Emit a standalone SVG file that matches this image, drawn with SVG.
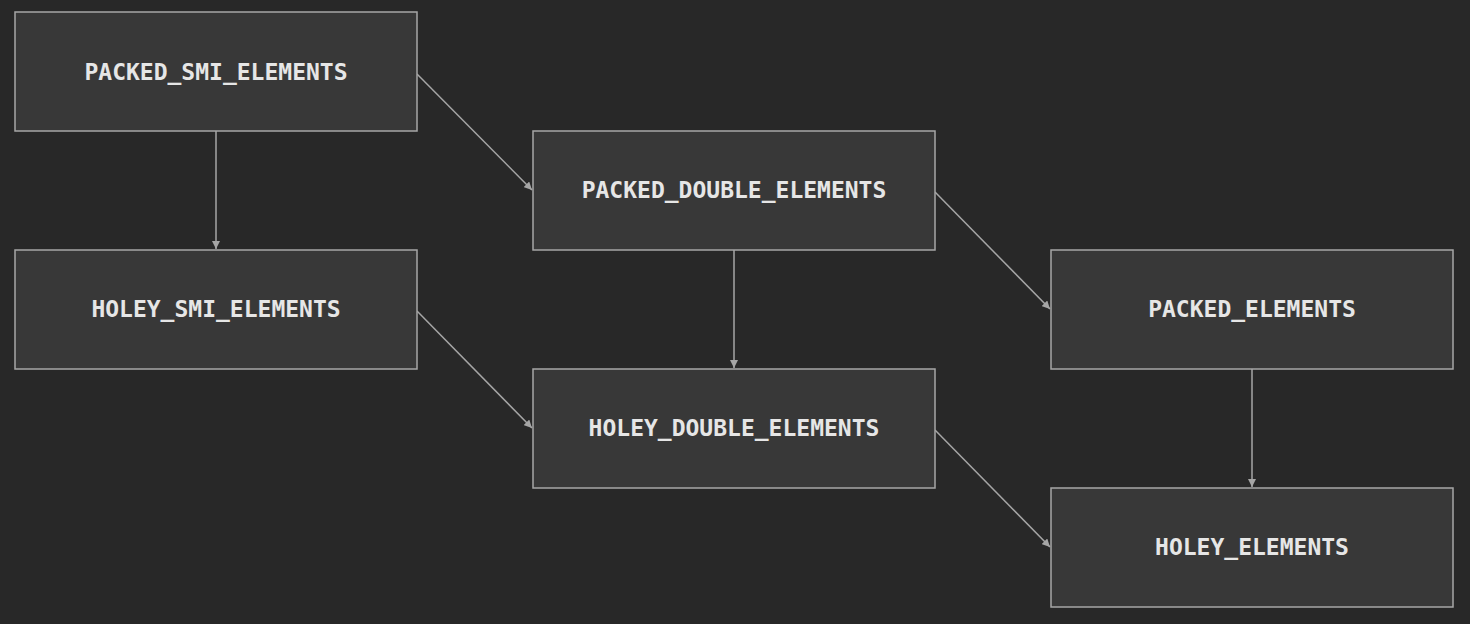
<svg xmlns="http://www.w3.org/2000/svg" width="1470" height="624" viewBox="0 0 1470 624">
<style>
.box{fill:#383838;stroke:#a6a6a6;stroke-width:1.5}
.lbl{font-family:"DejaVu Sans Mono","Liberation Mono",monospace;font-weight:bold;font-size:23px;fill:#e6e6e6;text-anchor:middle;dominant-baseline:central}
.edge{stroke:#a6a6a6;stroke-width:1.5;fill:none;marker-end:url(#arr)}
</style>
<defs>
<marker id="arr" viewBox="0 0 10 10" refX="10" refY="5" markerWidth="8" markerHeight="8" markerUnits="userSpaceOnUse" orient="auto"><path d="M0,0 L10,5 L0,10 z" fill="#a6a6a6"/></marker>
</defs>
<rect width="1470" height="624" fill="#282828"/>
<g id="connectors">
<line class="edge" x1="216" y1="131" x2="216" y2="249"/>
<line class="edge" x1="417" y1="74" x2="532" y2="190"/>
<line class="edge" x1="734" y1="250" x2="734" y2="368"/>
<line class="edge" x1="935" y1="192" x2="1050" y2="309"/>
<line class="edge" x1="417" y1="311" x2="532" y2="428"/>
<line class="edge" x1="1252" y1="369" x2="1252" y2="487"/>
<line class="edge" x1="935" y1="430" x2="1050" y2="547"/>
</g>
<g id="n1"><rect class="box" x="15" y="12" width="402" height="119"/><text class="lbl" x="216" y="72">PACKED_SMI_ELEMENTS</text></g>
<g id="n2"><rect class="box" x="533" y="131" width="402" height="119"/><text class="lbl" x="734" y="190">PACKED_DOUBLE_ELEMENTS</text></g>
<g id="n3"><rect class="box" x="15" y="250" width="402" height="119"/><text class="lbl" x="216" y="309">HOLEY_SMI_ELEMENTS</text></g>
<g id="n4"><rect class="box" x="1051" y="250" width="402" height="119"/><text class="lbl" x="1252" y="309">PACKED_ELEMENTS</text></g>
<g id="n5"><rect class="box" x="533" y="369" width="402" height="119"/><text class="lbl" x="734" y="428">HOLEY_DOUBLE_ELEMENTS</text></g>
<g id="n6"><rect class="box" x="1051" y="488" width="402" height="119"/><text class="lbl" x="1252" y="547">HOLEY_ELEMENTS</text></g>
</svg>
